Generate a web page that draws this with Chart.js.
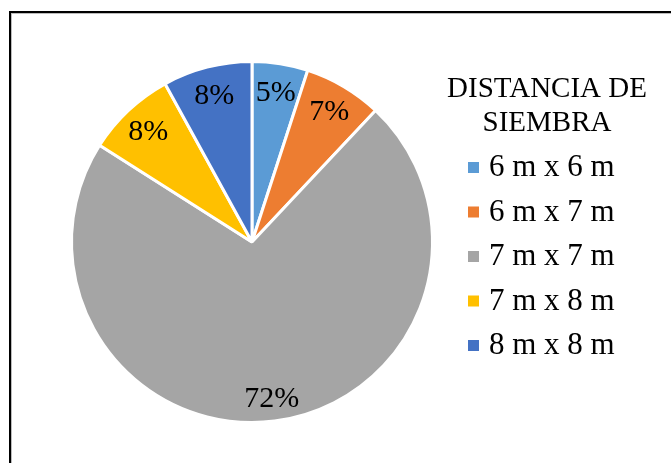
<!DOCTYPE html>
<html>
<head>
<meta charset="utf-8">
<script src="https://cdn.jsdelivr.net/npm/chart.js@4"></script>
<style>
  html, body { margin: 0; padding: 0; background: #fff; }
  #wrap { position: relative; width: 671px; height: 463px; overflow: hidden; }
  #frame {
    position: absolute; left: 9px; top: 11px; width: 700px; height: 500px;
    border-left: 2px solid #000; border-top: 2px solid #000;
    box-shadow: inset 1px 1px 0 #bbb;
  }
  canvas { position: absolute; left: 0; top: 0; }
</style>
</head>
<body>
<div id="wrap">
  <div id="frame"></div>
  <canvas id="pie" width="671" height="463"></canvas>
</div>
<script>
const legendTitle = ['DISTANCIA DE', 'SIEMBRA'];
const distances = ['6 m x 6 m', '6 m x 7 m', '7 m x 7 m', '7 m x 8 m', '8 m x 8 m'];
const percents = [5, 7, 72, 8, 8];
const colors = ['#5B9BD5', '#ED7D31', '#A5A5A5', '#FFC000', '#4472C4'];

const serif = '"Liberation Serif", "Times New Roman", serif';

// percent labels inside each slice
const sliceLabels = {
  id: 'sliceLabels',
  afterDatasetsDraw(chart) {
    const ctx = chart.ctx;
    const meta = chart.getDatasetMeta(0);
    ctx.save();
    ctx.font = '30px ' + serif;
    ctx.fillStyle = '#000';
    ctx.textAlign = 'center';
    ctx.textBaseline = 'middle';
    meta.data.forEach((arc, i) => {
      const p = arc.getProps(['x', 'y', 'startAngle', 'endAngle', 'outerRadius'], true);
      const mid = (p.startAngle + p.endAngle) / 2;
      const r = p.outerRadius * (percents[i] > 50 ? 0.87 : 0.84);
      ctx.fillText(percents[i] + '%', p.x + Math.cos(mid) * r, p.y + Math.sin(mid) * r + 1);
    });
    ctx.restore();
  }
};

// legend on the right with a two line title
const sideLegend = {
  id: 'sideLegend',
  afterDraw(chart) {
    const ctx = chart.ctx;
    ctx.save();
    ctx.fillStyle = '#000';
    ctx.font = '29px ' + serif;
    ctx.textAlign = 'center';
    ctx.textBaseline = 'middle';
    legendTitle.forEach((line, i) => {
      ctx.fillText(line, 547, 89 + i * 34);
    });
    ctx.font = '31px ' + serif;
    ctx.textAlign = 'left';
    chart.data.labels.forEach((label, i) => {
      const y = 167 + i * 44.5;
      ctx.fillStyle = colors[i];
      ctx.fillRect(468, y - 5, 11, 11);
      ctx.fillStyle = '#000';
      ctx.fillText(label, 489, y + 1);
    });
    ctx.restore();
  }
};

new Chart(document.getElementById('pie'), {
  type: 'pie',
  data: {
    labels: distances,
    datasets: [{
      data: percents,
      backgroundColor: colors,
      borderColor: '#fff',
      borderWidth: 3
    }]
  },
  options: {
    responsive: false,
    animation: false,
    layout: { padding: { left: 70, top: 60, right: 237, bottom: 39 } },
    plugins: {
      legend: { display: false },
      tooltip: { enabled: false }
    }
  },
  plugins: [sliceLabels, sideLegend]
});
</script>
</body>
</html>
